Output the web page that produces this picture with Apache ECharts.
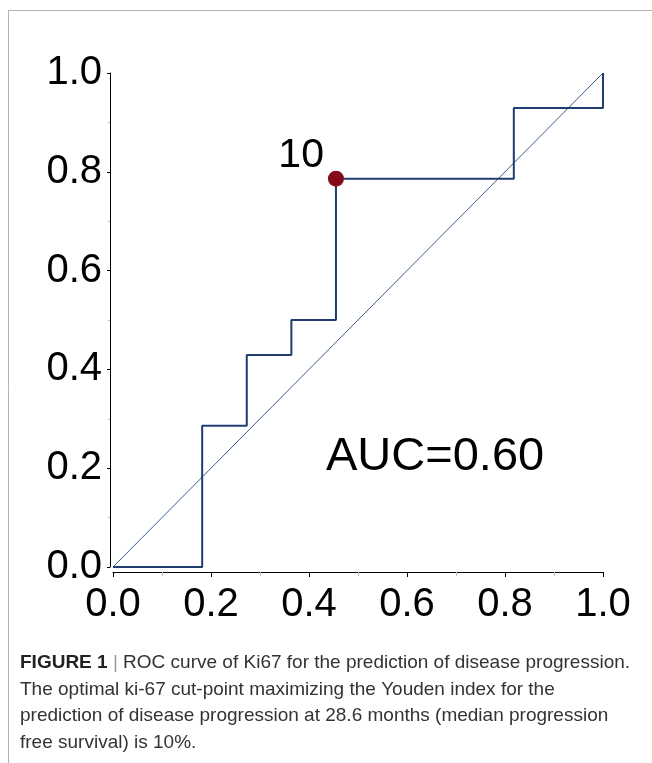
<!DOCTYPE html>
<html>
<head>
<meta charset="utf-8">
<script src="https://cdn.jsdelivr.net/npm/echarts@6/dist/echarts.min.js"></script>
<style>
  html, body { margin: 0; padding: 0; background: #fff; }
  #chart { width: 652px; height: 763px; }
</style>
</head>
<body>
<div id="chart"></div>
<script>
// ROC step curve (false positive rate, true positive rate)
var fpr = [0, 0.182, 0.182, 0.273, 0.273, 0.364, 0.364, 0.455, 0.455, 0.818, 0.818, 1, 1];
var tpr = [0, 0, 0.286, 0.286, 0.429, 0.429, 0.5, 0.5, 0.786, 0.786, 0.929, 0.929, 1];
// reference diagonal
var diagX = [0, 1];
var diagY = [0, 1];
// optimal cut-point
var optimalPoint = [0.455, 0.786];
var optimalLabel = '10';
var aucText = 'AUC=0.60';
var tickValues = [0, 0.2, 0.4, 0.6, 0.8, 1.0];
var captionLines = [
  '{b|FIGURE 1} {g||} ROC curve of Ki67 for the prediction of disease progression.',
  'The optimal ki-67 cut-point maximizing the Youden index for the',
  'prediction of disease progression at 28.6 months (median progression',
  'free survival) is 10%.'
];

var rocData = fpr.map(function (x, i) { return [x, tpr[i]]; });
var diagData = diagX.map(function (x, i) { return [x, diagY[i]]; });

var FONT = 'Liberation Sans, Arial, sans-serif';
var chart = echarts.init(document.getElementById('chart'), null, { renderer: 'canvas' });

function axisCommon(offset, tickLen, margin) {
  return {
    type: 'value',
    min: 0,
    max: 1,
    interval: 0.2,
    offset: offset,
    axisLine: { show: true, onZero: false, lineStyle: { color: '#000', width: 1 } },
    axisTick: { show: true, length: tickLen, lineStyle: { color: '#000', width: 1 } },
    minorTick: { show: true, splitNumber: 2, length: tickLen - 1, lineStyle: { color: '#bbb', width: 1 } },
    splitLine: { show: false },
    axisLabel: {
      fontSize: 40,
      color: '#000',
      fontFamily: FONT,
      margin: margin,
      formatter: function (v) { return v.toFixed(1); }
    }
  };
}

chart.setOption({
  animation: false,
  backgroundColor: '#fff',
  grid: { left: 113, right: 49, top: 73, bottom: 196, containLabel: false },
  xAxis: axisCommon(5, 5, 13),
  yAxis: axisCommon(3, 3, 8),
  series: [
    {
      type: 'line',
      data: diagData,
      showSymbol: false,
      symbol: 'none',
      lineStyle: { color: '#3d5d8f', width: 1, opacity: 1 },
      z: 2
    },
    {
      type: 'line',
      data: rocData,
      showSymbol: false,
      symbol: 'none',
      lineStyle: { color: '#1f3d70', width: 2, opacity: 1 },
      z: 3
    },
    {
      type: 'scatter',
      data: [optimalPoint],
      symbol: 'circle',
      symbolSize: 16,
      itemStyle: { color: '#850a1a', opacity: 1 },
      label: {
        show: true,
        formatter: optimalLabel,
        position: 'left',
        distance: 4,
        offset: [0, -23],
        fontSize: 41,
        color: '#000',
        opacity: 1,
        textBorderWidth: 0,
        fontFamily: FONT
      },
      emphasis: { disabled: true },
      z: 4
    }
  ],
  graphic: [
    { type: 'line', shape: { x1: 8, y1: 10.5, x2: 652, y2: 10.5 }, style: { stroke: '#b3b3b3', lineWidth: 1 } },
    { type: 'line', shape: { x1: 8.5, y1: 10, x2: 8.5, y2: 763 }, style: { stroke: '#b3b3b3', lineWidth: 1 } },
    {
      type: 'text',
      x: 326,
      y: 457,
      style: {
        text: aucText,
        fontSize: 47,
        fontFamily: FONT,
        fill: '#000',
        verticalAlign: 'middle',
        align: 'left'
      }
    },
    {
      type: 'text',
      x: 20,
      y: 650,
      style: {
        text: captionLines.join('\n'),
        fontSize: 19,
        lineHeight: 26.5,
        fontFamily: FONT,
        fill: '#333',
        rich: {
          b: { fontWeight: 'bold', fontSize: 19, lineHeight: 26.5, fontFamily: FONT, fill: '#222' },
          g: { fontSize: 19, lineHeight: 26.5, fontFamily: FONT, fill: '#999' }
        }
      }
    }
  ]
});
</script>
</body>
</html>
